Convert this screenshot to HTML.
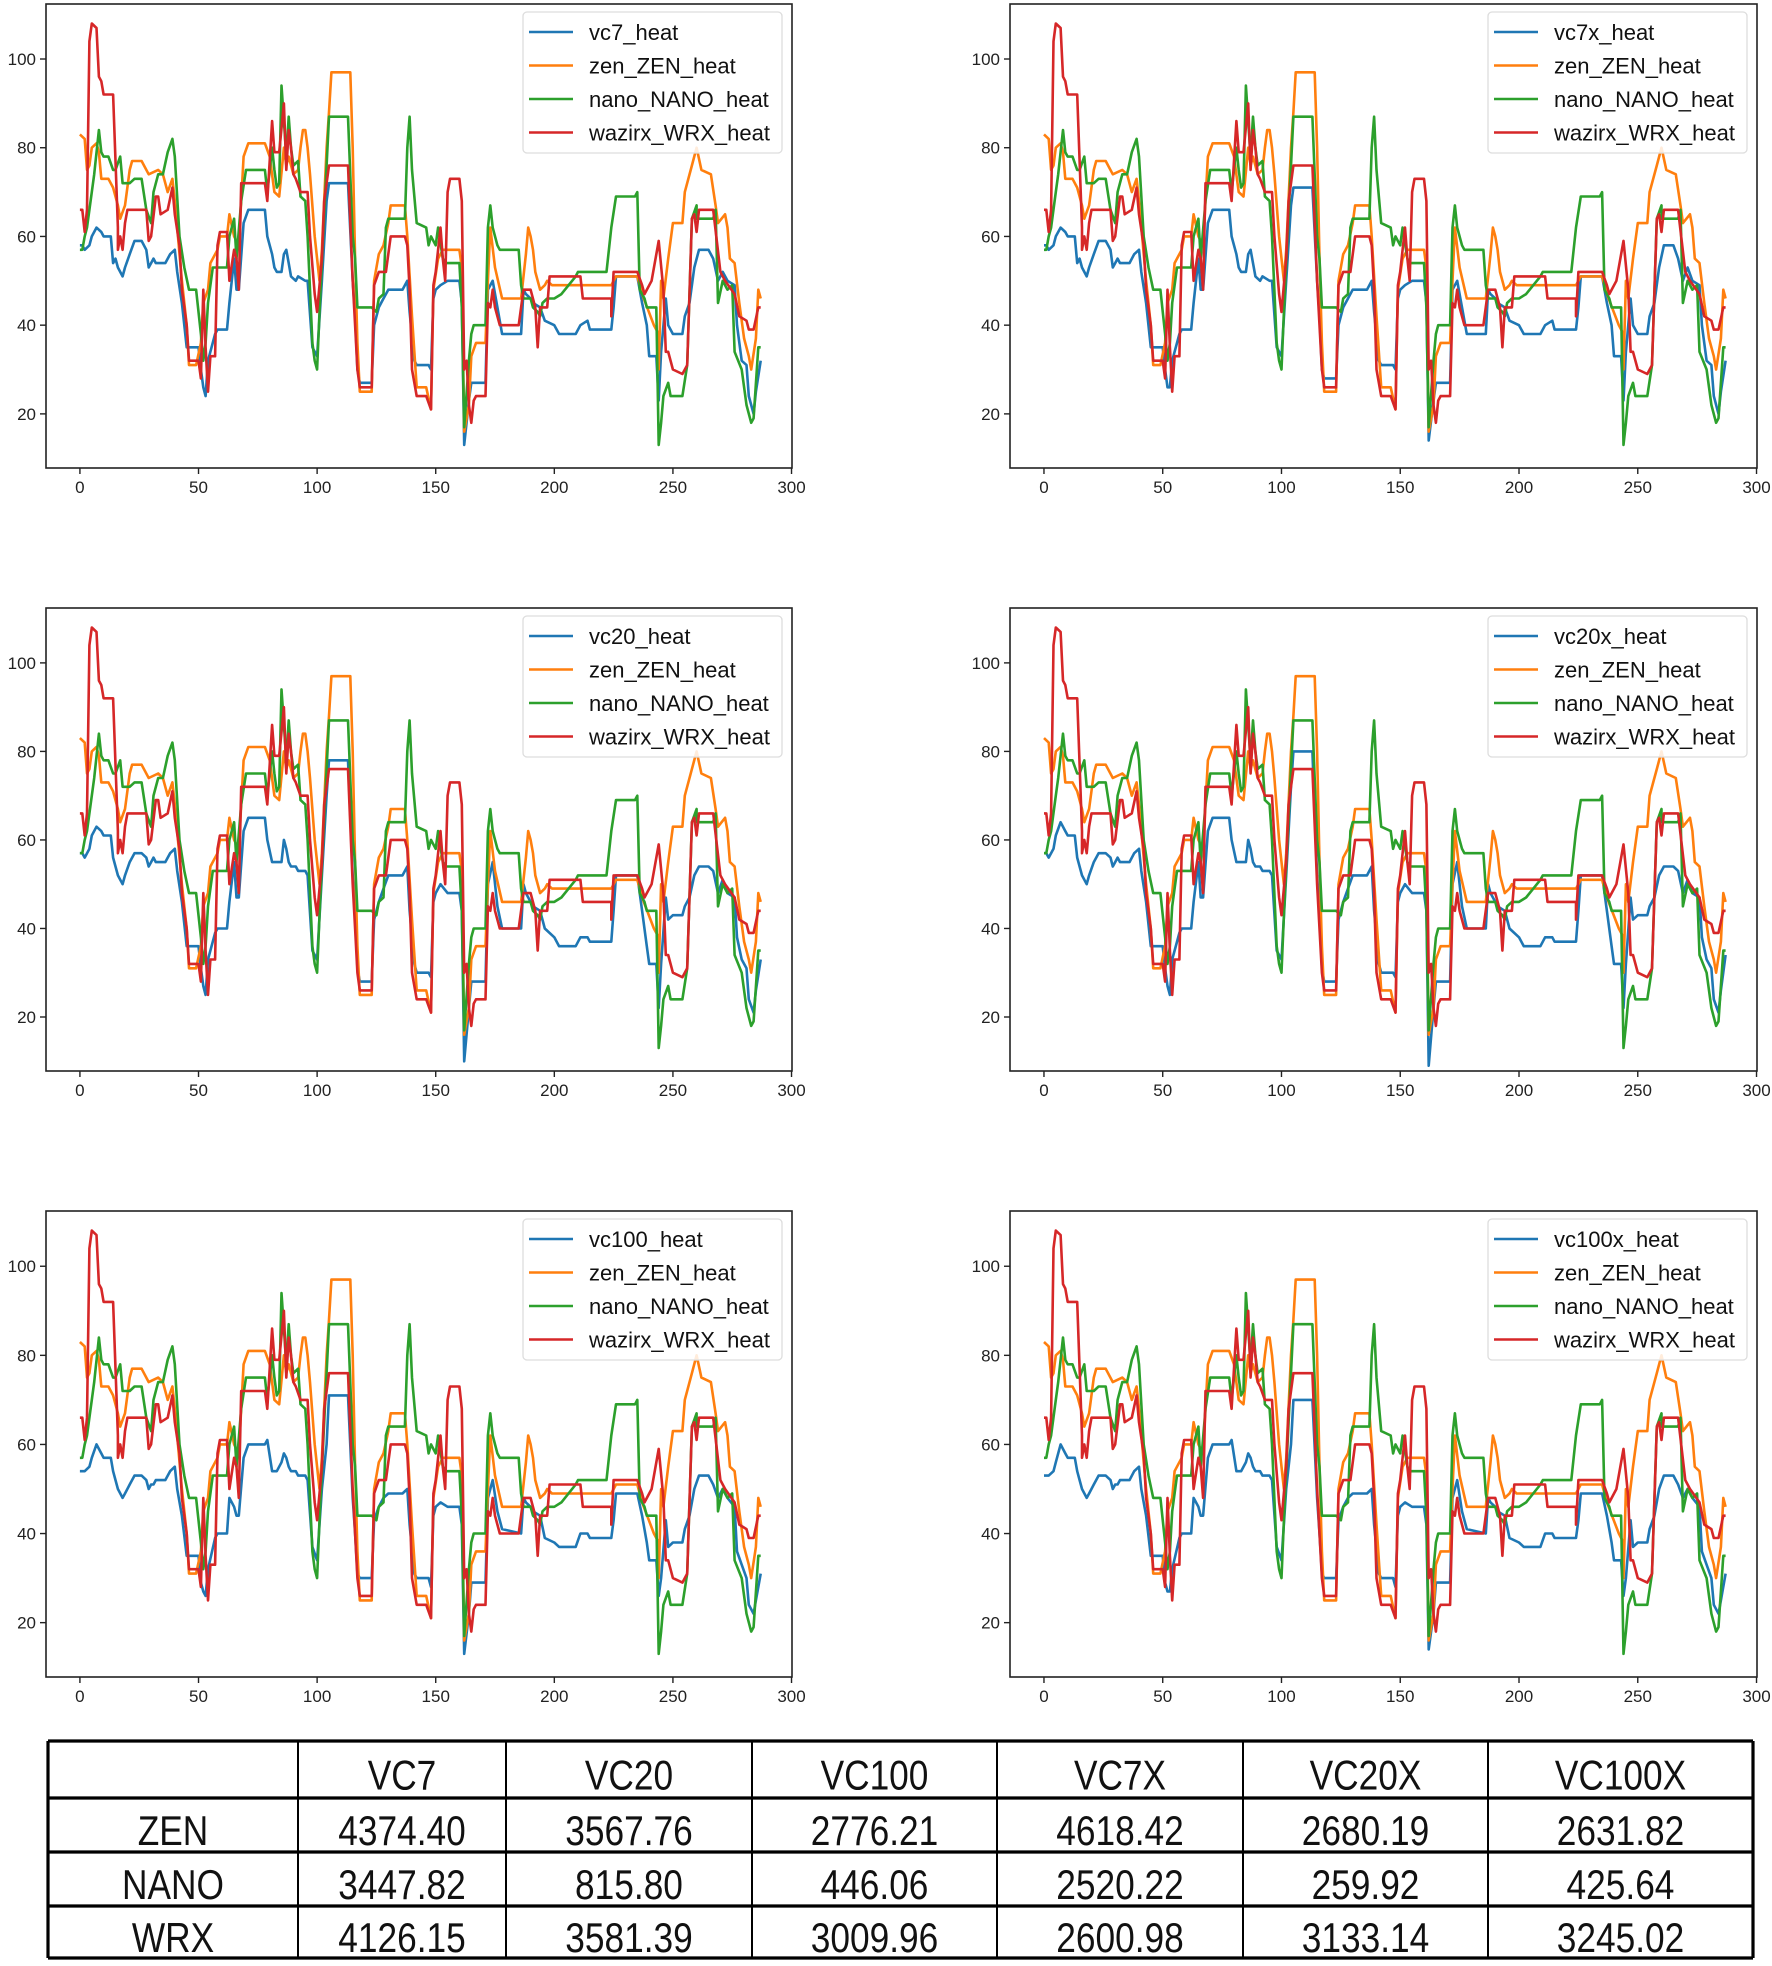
<!DOCTYPE html>
<html><head><meta charset="utf-8"><style>
html,body{margin:0;padding:0;background:#fff;}
svg{display:block;}
.tk{font-family:"Liberation Sans",sans-serif;font-size:17px;fill:#222;}
.lg{font-family:"Liberation Sans",sans-serif;font-size:22px;fill:#111;}
.tb{font-family:"Liberation Sans",sans-serif;font-size:42px;fill:#111;transform-box:fill-box;transform-origin:center;transform:scaleX(0.84);}
</style></head><body>
<svg id="root" width="1772" height="1966" viewBox="0 0 1772 1966" xmlns="http://www.w3.org/2000/svg">
<g id="charts"></g>
<g id="table"></g>
</svg>
<script>
const xTicks=[0,50,100,150,200,250,300];
const yTicks=[20,40,60,80,100];
const blueX=[0,1,2,4,5,7,9,10,13,14,15,16,18,19,21,23,26,28,29,30,31,32,36,38,40,41,43,45,46,50,51,52,53,54,57,58,62,63,65,66,67,69,71,78,79,81,82,83,85,86,87,88,89,91,92,95,96,98,100,102,104,105,113,115,116,117,118,123,124,126,128,130,136,138,139,141,142,147,148,149,150,152,155,160,161,162,164,165,167,171,172,174,176,178,186,187,188,190,191,194,196,200,202,209,211,214,215,224,225,226,235,237,239,240,243,244,245,247,248,250,251,254,255,257,259,261,265,267,269,271,273,276,277,279,281,282,284,285,287];
const vc7Y=[58,58,57,58,60,62,61,60,60,54,55,53,51,53,56,59,59,57,53,54,55,54,54,56,57,52,45,35,35,35,30,26,24,32,38,39,39,45,55,48,48,63,66,66,60,56,53,52,52,56,57,54,51,50,51,50,50,35,33,50,68,72,72,50,42,30,27,27,40,44,46,48,48,50,43,32,31,31,30,46,48,49,50,50,45,13,23,27,27,27,48,50,44,38,38,48,47,46,45,44,41,40,38,38,40,41,39,39,44,51,51,45,40,33,33,23,34,46,40,38,38,38,42,45,53,57,57,55,50,52,50,49,40,32,31,24,20,25,32];
const vc20Y=[57,57,56,58,61,63,62,61,61,56,54,52,50,52,55,57,57,56,54,55,56,55,55,57,58,53,46,36,36,36,31,27,25,33,39,40,40,46,55,47,47,62,65,65,60,55,55,55,55,60,58,55,54,54,53,53,52,35,33,52,70,78,78,52,44,31,28,28,42,46,49,52,52,54,44,32,30,30,29,46,48,50,48,48,44,10,22,28,28,28,50,55,45,40,40,50,48,46,45,44,40,38,36,36,38,38,37,37,44,52,52,44,36,32,32,22,32,47,42,43,43,43,45,47,52,54,54,53,48,51,48,47,38,33,31,24,21,26,33];
const vc100Y=[54,54,54,55,57,60,58,57,57,54,52,50,48,49,51,53,53,52,50,51,51,52,52,54,55,50,44,35,35,35,29,27,26,32,39,40,40,48,46,44,44,57,60,60,61,54,54,54,56,58,57,55,54,54,53,53,52,37,34,50,60,71,71,48,40,31,30,30,43,46,48,49,49,50,42,31,30,30,28,44,46,47,46,46,42,13,22,29,29,29,48,52,45,41,40,48,47,46,45,44,39,38,37,37,40,40,39,39,43,49,49,44,38,34,34,26,30,43,37,38,38,38,41,44,50,53,53,51,48,50,48,46,36,33,30,24,22,25,31];
const vc7xY=[58,58,57,58,60,62,61,60,60,54,55,53,51,53,56,59,59,57,53,54,55,54,54,56,57,52,45,35,35,35,30,26,26,32,38,39,39,45,55,48,48,63,66,66,60,56,53,52,52,56,57,54,51,50,51,50,50,35,33,50,67,71,71,50,42,30,28,28,40,44,46,48,48,50,43,32,31,31,30,46,48,49,50,50,45,14,23,27,27,27,48,50,44,38,38,48,47,46,45,44,41,40,38,38,40,41,39,39,44,51,51,45,40,33,33,23,34,46,40,38,38,38,42,45,53,58,58,55,50,53,50,49,40,32,31,24,20,25,32];
const vc20xY=[57,57,56,58,61,64,62,61,61,56,54,52,50,52,55,57,57,56,54,55,56,55,55,57,58,53,46,36,36,36,31,27,25,33,39,40,40,46,55,47,47,62,65,65,60,55,55,55,55,60,58,55,54,54,53,53,52,35,33,52,72,80,80,52,44,31,28,28,42,46,49,52,52,54,44,32,30,30,29,46,48,50,48,48,44,9,22,28,28,28,50,55,45,40,40,50,48,46,45,44,40,38,36,36,38,38,37,37,44,52,52,44,36,32,32,22,32,47,42,43,43,43,45,47,52,54,54,53,48,51,48,47,38,33,31,24,21,26,34];
const vc100xY=[53,53,53,54,56,60,58,57,57,54,52,50,48,49,51,53,53,52,50,51,51,52,52,54,55,50,44,35,35,35,29,27,27,32,39,40,40,48,46,44,44,57,60,60,61,54,54,54,56,58,57,55,54,54,53,53,52,37,34,50,60,70,70,48,40,31,30,30,43,46,48,49,49,50,42,31,30,30,28,44,46,47,46,46,42,14,22,29,29,29,48,52,45,41,40,48,47,46,45,44,39,38,37,37,40,40,39,39,43,49,49,44,38,34,34,26,30,43,37,38,38,38,41,44,50,53,53,51,48,50,48,46,36,33,30,24,22,25,31];
const zenX=[0,2,3,4,5,7,8,9,12,14,16,17,19,21,22,26,29,33,35,37,39,40,43,45,46,49,51,52,54,55,58,59,62,63,65,67,69,71,78,80,82,84,86,87,88,90,92,93,94,95,96,97,99,101,102,104,105,106,107,114,115,116,117,118,123,124,126,128,130,131,137,138,140,142,146,148,149,151,153,160,161,162,164,165,167,171,172,173,175,178,186,188,189,190,191,192,194,196,197,199,224,226,235,237,242,244,244,245,246,248,250,254,255,258,260,262,266,268,269,272,273,274,276,278,280,282,283,285,286,287];
const zenY=[83,82,75,76,80,81,79,73,73,71,67,64,67,75,77,77,74,75,74,70,73,68,50,40,31,31,36,45,48,54,57,60,60,65,60,58,78,81,81,78,70,69,80,76,78,74,75,80,84,84,80,74,60,50,57,80,88,97,97,97,80,55,36,25,25,50,56,58,63,67,67,60,42,26,26,21,48,55,57,57,53,16,22,33,36,36,50,62,53,46,46,56,62,60,57,52,48,49,50,49,49,51,51,47,40,38,30,50,46,55,63,63,70,76,80,75,74,67,63,65,62,55,54,45,37,33,30,37,48,46];
const nanoX=[0,1,2,3,5,6,8,9,10,12,14,15,17,18,21,23,26,28,30,31,33,35,37,39,40,42,44,46,49,51,52,53,54,56,62,63,65,66,68,70,78,79,81,82,83,84,85,86,87,88,89,90,92,93,95,96,98,99,100,101,103,104,105,113,115,116,117,123,125,126,128,129,130,137,138,139,140,142,146,147,148,150,151,153,154,160,161,162,164,165,166,171,172,173,174,176,177,185,186,187,190,191,193,194,195,197,200,203,209,210,222,224,226,234,235,236,238,239,243,244,245,246,248,249,254,256,258,260,260,267,268,269,271,273,275,276,279,281,283,284,286,287];
const nanoY=[57,57,60,62,70,74,84,79,78,78,75,75,78,72,72,73,73,66,63,70,74,74,79,82,78,60,53,48,48,38,32,36,45,53,53,60,64,55,68,75,75,70,80,75,71,72,94,86,78,87,80,76,77,69,68,60,36,32,30,43,65,76,87,87,60,55,44,44,43,46,47,62,64,64,80,87,75,63,62,58,60,58,62,55,54,54,44,17,32,38,40,40,62,67,62,58,57,57,49,46,46,44,43,42,45,46,46,47,51,52,52,62,69,69,70,48,46,44,44,13,18,24,27,24,24,31,64,67,64,64,66,45,50,48,49,34,30,22,18,19,35,35];
const wrxX=[0,1,2,3,4,5,7,8,9,10,14,16,16,17,18,19,20,28,29,30,32,33,34,37,39,40,42,43,45,46,50,51,52,53,54,55,57,58,59,62,63,65,66,67,68,78,79,81,82,84,86,87,88,89,90,91,93,96,97,99,100,102,103,105,113,115,116,117,118,123,124,126,129,131,137,138,139,140,142,146,148,149,150,152,153,154,155,156,160,161,162,163,164,165,166,167,171,172,173,174,175,177,185,187,190,192,193,194,197,198,211,212,224,224,225,235,237,238,241,244,246,247,248,250,254,256,258,259,260,261,267,270,272,276,278,281,282,284,286,287];
const wrxY=[66,66,61,66,104,108,107,96,95,92,92,62,57,60,57,63,66,66,59,60,69,69,65,66,71,65,58,48,40,32,32,28,48,35,25,33,33,58,61,61,50,57,55,48,72,72,68,86,79,79,90,75,84,80,74,73,70,70,60,47,43,55,68,76,76,50,40,30,26,26,49,52,52,60,60,58,48,30,24,24,21,49,52,62,55,50,70,73,73,68,30,32,22,18,23,24,24,45,44,48,44,40,40,48,48,44,35,44,44,51,51,46,46,42,52,52,49,47,50,59,48,34,34,30,29,31,64,65,61,66,66,52,50,47,42,41,39,39,44,44];
const legendNames=["zen_ZEN_heat","nano_NANO_heat","wazirx_WRX_heat"];
const tableCols=["","VC7","VC20","VC100","VC7X","VC20X","VC100X"];
const tableRowNames=["ZEN","NANO","WRX"];
const zenVals=["4374.40","3567.76","2776.21","4618.42","2680.19","2631.82"];
const nanoVals=["3447.82","815.80","446.06","2520.22","259.92","425.64"];
const wrxVals=["4126.15","3581.39","3009.96","2600.98","3133.14","3245.02"];

const NS="http://www.w3.org/2000/svg";
function mk(tag,attrs,parent){const e=document.createElementNS(NS,tag);for(const k in attrs)e.setAttribute(k,attrs[k]);parent.appendChild(e);return e;}
const COLORS={blue:"#1f77b4",orange:"#ff7f0e",green:"#2ca02c",red:"#d62728"};
const panels=[
 {l:46,t:4,r:792,b:468,name:"vc7_heat",y:vc7Y},
 {l:1010,t:4,r:1757,b:468,name:"vc7x_heat",y:vc7xY},
 {l:46,t:608,r:792,b:1071,name:"vc20_heat",y:vc20Y},
 {l:1010,t:608,r:1757,b:1071,name:"vc20x_heat",y:vc20xY},
 {l:46,t:1211,r:792,b:1677,name:"vc100_heat",y:vc100Y},
 {l:1010,t:1211,r:1757,b:1677,name:"vc100x_heat",y:vc100xY}
];
const XMIN=-14.3,XMAX=300.2,YMIN=7.8,YMAX=112.4;
const root=document.getElementById('charts');
panels.forEach((p,i)=>{
 const g=mk('g',{},root);
 
 
 const sx=v=>p.l+(v-XMIN)/(XMAX-XMIN)*(p.r-p.l);
 const sy=v=>p.b-(v-YMIN)/(YMAX-YMIN)*(p.b-p.t);
 const clipId='clip'+i;
 const cp=mk('clipPath',{id:clipId},g);mk('rect',{x:p.l,y:p.t,width:p.r-p.l,height:p.b-p.t},cp);
 const series=[[blueX,p.y,COLORS.blue,p.name],[zenX,zenY,COLORS.orange,"zen"],[nanoX,nanoY,COLORS.green,"nano"],[wrxX,wrxY,COLORS.red,"wrx"]];
 series.forEach(s=>{
  const pts=s[0].map((x,j)=>sx(x).toFixed(1)+','+sy(s[1][j]).toFixed(1)).join(' ');
  const pl=mk('polyline',{points:pts,fill:'none',stroke:s[2],'stroke-width':2.6,'stroke-linejoin':'round','clip-path':'url(#'+clipId+')'},g);
  
  
 });
 const fr=mk('rect',{x:p.l,y:p.t,width:p.r-p.l,height:p.b-p.t,fill:'none',stroke:'#222','stroke-width':1.6},g);
 
 
 xTicks.forEach(v=>{
  const x=sx(v);
  mk('line',{x1:x,x2:x,y1:p.b,y2:p.b+6,stroke:'#222','stroke-width':1.4},g);
  const t=mk('text',{x:x,y:p.b+25,'text-anchor':'middle',class:'tk'},g);t.textContent=v;
  
  
 });
 yTicks.forEach(v=>{
  const y=sy(v);
  mk('line',{x1:p.l-6,x2:p.l,y1:y,y2:y,stroke:'#222','stroke-width':1.4},g);
  const t=mk('text',{x:p.l-10,y:y+6,'text-anchor':'end',class:'tk'},g);t.textContent=v;
  
  
 });
 const lg=mk('g',{},g);
 
 
 const lx=p.r-269,ly=p.t+8;
 mk('rect',{x:lx,y:ly,width:259,height:141,rx:4,fill:'#fff','fill-opacity':0.85,stroke:'#ddd','stroke-width':1.3},lg);
 const names=[p.name].concat(legendNames);const cols=[COLORS.blue,COLORS.orange,COLORS.green,COLORS.red];
 names.forEach((n,k)=>{
  const yy=ly+20+k*33.5;
  mk('line',{x1:lx+6,x2:lx+50,y1:yy,y2:yy,stroke:cols[k],'stroke-width':2.6},lg);
  const t=mk('text',{x:lx+66,y:yy+8,class:'lg'},lg);t.textContent=n;
  
  
 });
});
// table
const tb=document.getElementById('table');
const colX=[48,298,506,752,997,1243,1488,1753];
const rowY=[1741,1798,1852,1906,1958];
rowY.forEach(y=>mk('line',{x1:48,x2:1753,y1:y,y2:y,stroke:'#000','stroke-width':3.2},tb));
colX.forEach(x=>mk('line',{x1:x,x2:x,y1:1741,y2:1958,stroke:'#000','stroke-width':(x==48||x==1753)?3.2:2},tb));
const rows=[tableCols,[tableRowNames[0]].concat(zenVals),[tableRowNames[1]].concat(nanoVals),[tableRowNames[2]].concat(wrxVals)];
rows.forEach((r,ri)=>{
 r.forEach((txt,ci)=>{
  if(!txt)return;
  const cx=(colX[ci]+colX[ci+1])/2;
  const cy=(rowY[ri]+rowY[ri+1])/2+20;
  const t=mk('text',{x:cx,y:cy,'text-anchor':'middle',class:'tb'},tb);
  t.textContent=txt;
  
  
 });
});
</script>
</body></html>
